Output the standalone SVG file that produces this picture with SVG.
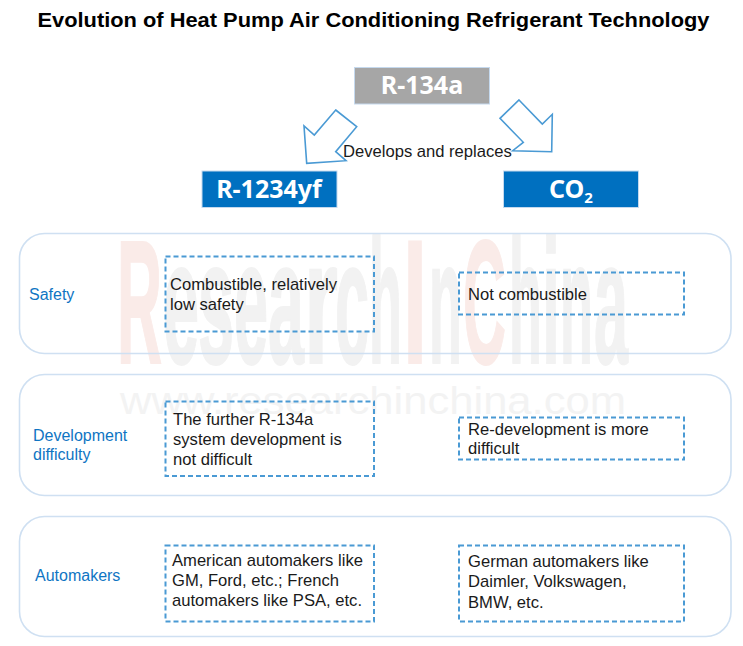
<svg xmlns="http://www.w3.org/2000/svg" width="743" height="646" viewBox="0 0 743 646">
<style>
text{font-family:"Liberation Sans",Arial,sans-serif}
.title{font-size:21px;font-weight:bold;fill:#000}
.hd{font-family:"Noto Sans","Open Sans",sans-serif;font-size:25px;font-weight:bold;fill:#fff;text-anchor:middle}
.row{fill:none;stroke:#cfe0f2;stroke-width:1.6}
.dash{fill:none;stroke:#4a9ad4;stroke-width:2;stroke-dasharray:5 3}
.arrow{fill:#fff;stroke:#4a9ad4;stroke-width:1.6}
.lab{font-size:16px;fill:#0f75c3}
.t{font-size:16.6px;fill:#1a1a1a}
.wm{font-weight:bold;font-size:176px;fill:#f2f2f2;stroke:#f2f2f2;stroke-width:2}
.wr{fill:#faebe8;stroke:#faebe8}
</style>
<rect width="743" height="646" fill="#fff"/>
<g id="watermark">
<text class="wm wr" x="117" y="363" textLength="45" lengthAdjust="spacingAndGlyphs">R</text>
<text class="wm" x="163" y="363" textLength="36" lengthAdjust="spacingAndGlyphs">e</text>
<text class="wm" x="198" y="363" textLength="36" lengthAdjust="spacingAndGlyphs">s</text>
<text class="wm" x="234" y="363" textLength="34" lengthAdjust="spacingAndGlyphs">e</text>
<text class="wm" x="268" y="363" textLength="36" lengthAdjust="spacingAndGlyphs">a</text>
<text class="wm" x="304" y="363" textLength="34" lengthAdjust="spacingAndGlyphs">r</text>
<text class="wm" x="335" y="363" textLength="34" lengthAdjust="spacingAndGlyphs">c</text>
<text class="wm" x="369" y="363" textLength="33" lengthAdjust="spacingAndGlyphs">h</text>
<text class="wm wr" x="403" y="363" textLength="24" lengthAdjust="spacingAndGlyphs">I</text>
<text class="wm" x="429" y="363" textLength="33" lengthAdjust="spacingAndGlyphs">n</text>
<text class="wm wr" x="463" y="363" textLength="43" lengthAdjust="spacingAndGlyphs">C</text>
<text class="wm" x="509" y="363" textLength="33" lengthAdjust="spacingAndGlyphs">h</text>
<text class="wm" x="542" y="363" textLength="18" lengthAdjust="spacingAndGlyphs">i</text>
<text class="wm" x="560" y="363" textLength="33" lengthAdjust="spacingAndGlyphs">n</text>
<text class="wm" x="594" y="363" textLength="34" lengthAdjust="spacingAndGlyphs">a</text>
<text x="120" y="414" font-size="38" fill="#f3f3f3" textLength="506" lengthAdjust="spacingAndGlyphs">www.researchinchina.com</text>
</g>
<text class="title" x="37.5" y="27" textLength="672" lengthAdjust="spacingAndGlyphs">Evolution of Heat Pump Air Conditioning Refrigerant Technology</text>
<g id="connectors">
<polygon class="arrow" points="335.7,110 356.7,126.7 335.7,151.7 346,160.7 306.7,163.3 304,126 314.3,135"/>
<polygon class="arrow" points="519,100 542.3,124 552.3,114.3 551.7,151.7 512.7,150.7 523.3,142.3 500,118.3"/>
</g>
<g id="edge-label"><text x="343" y="157" font-size="16.6" fill="#1a1a1a">Develops and replaces</text></g>
<g id="r134a"><rect x="354.5" y="67.5" width="135" height="36.5" fill="#a6a6a6" stroke="#c5d9ee"/><text class="hd" x="422" y="94">R-134a</text></g>
<g id="r1234yf"><rect x="202" y="171" width="135" height="36.5" fill="#0070c0" stroke="#c5d9ee"/><text class="hd" x="269" y="198">R-1234yf</text></g>
<g id="co2"><rect x="503.5" y="171" width="135" height="36.5" fill="#0070c0" stroke="#c5d9ee"/><text class="hd" x="571" y="198">CO<tspan font-size="15" dy="5">2</tspan></text></g>
<g id="row-safety"><rect class="row" x="19.5" y="233.5" width="711.5" height="120" rx="25"/>
<text class="lab" x="29" y="300">Safety</text>
<rect class="dash" x="165.5" y="256.5" width="208.5" height="75"/>
<text class="t"><tspan x="170" y="290">Combustible, relatively</tspan><tspan x="170" y="310">low safety</tspan></text>
<rect class="dash" x="459" y="272.5" width="225" height="42"/>
<text class="t" x="468" y="300">Not combustible</text></g>
<g id="row-development"><rect class="row" x="19.5" y="374.5" width="711.5" height="121" rx="25"/>
<text class="lab"><tspan x="33" y="441">Development</tspan><tspan x="33" y="460">difficulty</tspan></text>
<rect class="dash" x="165.5" y="401.5" width="208.5" height="74.5"/>
<text class="t"><tspan x="173" y="425">The further R-134a</tspan><tspan x="173" y="445">system development is</tspan><tspan x="173" y="465">not difficult</tspan></text>
<rect class="dash" x="459" y="417.5" width="225" height="42"/>
<text class="t"><tspan x="468" y="435">Re-development is more</tspan><tspan x="468" y="454">difficult</tspan></text></g>
<g id="row-automakers"><rect class="row" x="19.5" y="516.5" width="711.5" height="120" rx="25"/>
<text class="lab" x="35" y="581">Automakers</text>
<rect class="dash" x="165.5" y="545.5" width="208.5" height="76"/>
<text class="t"><tspan x="172" y="566">American automakers like</tspan><tspan x="172" y="586">GM, Ford, etc.; French</tspan><tspan x="172" y="606">automakers like PSA, etc.</tspan></text>
<rect class="dash" x="459" y="545.5" width="225" height="76"/>
<text class="t"><tspan x="468" y="567">German automakers like</tspan><tspan x="468" y="587">Daimler, Volkswagen,</tspan><tspan x="468" y="608">BMW, etc.</tspan></text></g>
</svg>
